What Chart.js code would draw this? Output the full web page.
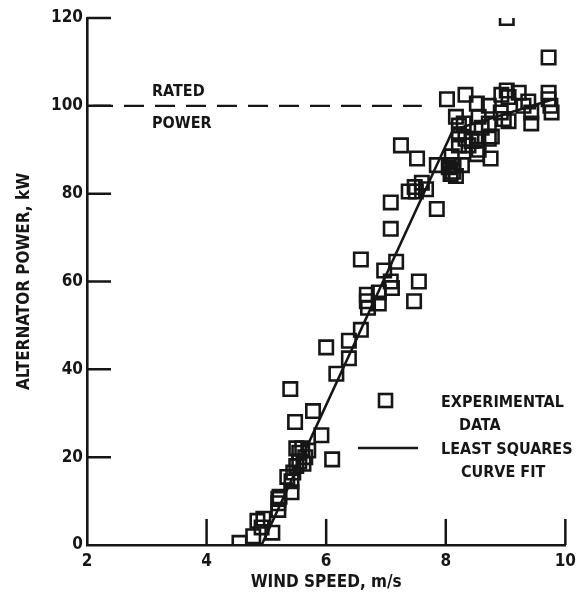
<!DOCTYPE html>
<html>
<head>
<meta charset="utf-8">
<script src="https://cdn.jsdelivr.net/npm/chart.js@4/dist/chart.umd.min.js"></script>
<style>
  html, body { margin: 0; padding: 0; background: #fff; }
  #wrap { width: 582px; height: 596px; }
</style>
</head>
<body>
<div id="wrap"><canvas id="powerChart" width="582" height="596"></canvas></div>
<script>
const windSpeed = [
  4.55, 4.78, 4.85, 4.92, 4.95, 5.1,
  5.2, 5.2, 5.22, 5.2, 5.35, 5.42, 5.45, 5.42,
  5.5, 5.55, 5.6, 5.65, 5.55, 5.7, 5.62, 5.5,
  5.48, 5.4, 5.78, 5.92, 6.1, 6.0, 6.17, 6.38, 6.38, 6.58, 6.58,
  6.68, 6.68, 6.7, 6.88, 6.88, 6.97, 7.08, 7.1, 7.17, 7.47, 7.55,
  7.08, 7.08, 7.25, 7.38, 7.48, 7.5, 7.6, 7.67, 7.52, 7.85, 7.85,
  8.05, 8.12, 8.08, 8.17, 8.1, 8.13, 8.27,
  8.52, 8.75, 8.55, 8.22, 8.33, 8.52, 8.72, 8.77,
  8.17, 8.22, 8.3, 8.55, 8.6, 8.72,
  8.02, 8.33, 8.52, 8.72, 8.22, 8.38, 8.43,
  8.93, 9.02, 9.05, 9.22, 8.92, 8.97, 9.05,
  9.43, 9.43, 9.38, 9.3,
  9.72, 9.72, 9.75, 9.77, 9.02, 9.72
];
const power = [
  0.5, 2, 5.5, 4, 6, 2.8,
  8, 9.5, 11, 10.5, 15.5, 14.5, 16.5, 12,
  18, 21, 22, 20, 19, 21.5, 18.5, 22,
  28, 35.5, 30.5, 25, 19.5, 45, 39, 42.5, 46.5, 49, 65,
  57, 55.5, 54, 57.5, 55, 62.5, 60, 58.5, 64.5, 55.5, 60,
  72, 78, 91, 80.5, 81.5, 80.5, 82.5, 81, 88, 76.5, 86.5,
  86, 85, 84.5, 84, 88.5, 86.5, 86.5,
  89, 88, 90, 93.5, 92.5, 92.5, 92.5, 93,
  97.5, 95.5, 96, 97.5, 95, 96,
  101.5, 102.5, 100.5, 100, 91, 91, 92,
  102.5, 103.5, 102, 103, 98.5, 97, 96.5,
  98.5, 96, 101, 100,
  103, 101.5, 100, 98.5, 120, 111
];

// least squares curve fit
const fitSpeed = [4.92, 8.12, 9.8];
const fitPower = [0, 94.5, 101.5];

// rated power reference line
const ratedSpeed = [2.1, 7.6];
const ratedPower = [100, 100];

const xTicks = [2, 4, 6, 8, 10];
const yTicks = [0, 20, 40, 60, 80, 100, 120];

const INK = '#161616';
const FONT = '"DejaVu Sans Condensed", "Liberation Sans Narrow", "Liberation Sans", sans-serif';

function toPoints(xs, ys) {
  return xs.map((x, i) => ({ x: x, y: ys[i] }));
}

// tick marks drawn on the inside of the axes, plus the notes on the plot
const annotations = {
  id: 'annotations',
  afterDatasetsDraw(chart) {
    const { ctx, chartArea, scales } = chart;
    const xs = scales.x, ys = scales.y;
    ctx.save();
    ctx.strokeStyle = INK;
    ctx.lineWidth = 2.5;
    ctx.beginPath();
    xTicks.slice(1).forEach(v => {
      const px = xs.getPixelForValue(v);
      ctx.moveTo(px, chartArea.bottom);
      ctx.lineTo(px, chartArea.bottom - 26);
    });
    yTicks.slice(1).forEach(v => {
      const py = ys.getPixelForValue(v);
      ctx.moveTo(chartArea.left, py);
      ctx.lineTo(chartArea.left + 24, py);
    });
    ctx.stroke();

    ctx.fillStyle = INK;
    ctx.textBaseline = 'middle';
    ctx.textAlign = 'left';
    ctx.font = 'bold 16px ' + FONT;
    const ry = ys.getPixelForValue(100);
    ctx.fillText('RATED', chartArea.left + 65, ry - 14);
    ctx.fillText('POWER', chartArea.left + 65, ry + 18);

    // legend
    ctx.lineWidth = 2.6;
    ctx.strokeRect(379, 394, 13, 13);
    ctx.beginPath();
    ctx.moveTo(358, 448);
    ctx.lineTo(418, 448);
    ctx.stroke();
    ctx.fillText('EXPERIMENTAL', 441, 403);
    ctx.fillText('DATA', 459, 426);
    ctx.fillText('LEAST SQUARES', 441, 450);
    ctx.fillText('CURVE FIT', 461, 473);
    ctx.restore();
  }
};

const config = {
  type: 'scatter',
  data: {
    datasets: [
      {
        label: 'Experimental data',
        data: toPoints(windSpeed, power),
        pointStyle: 'rect',
        pointRadius: 9.5,
        pointBorderWidth: 2.6,
        pointBorderColor: INK,
        pointBackgroundColor: 'rgba(0,0,0,0)',
        showLine: false
      },
      {
        label: 'Least squares curve fit',
        data: toPoints(fitSpeed, fitPower),
        showLine: true,
        borderColor: INK,
        borderWidth: 2.6,
        pointRadius: 0
      },
      {
        label: 'Rated power',
        data: toPoints(ratedSpeed, ratedPower),
        showLine: true,
        borderColor: INK,
        borderWidth: 2.2,
        borderDash: [20, 11],
        pointRadius: 0
      }
    ]
  },
  options: {
    responsive: false,
    animation: false,
    layout: { padding: { top: 18, right: 14, left: 0, bottom: 0 } },
    plugins: {
      legend: { display: false },
      tooltip: { enabled: false }
    },
    scales: {
      x: {
        type: 'linear',
        min: 2,
        max: 10,
        afterBuildTicks: s => { s.ticks = xTicks.map(v => ({ value: v })); },
        afterFit: s => { s.height = 51; },
        grid: { display: false, drawTicks: false },
        border: { display: true, color: INK, width: 2.6 },
        ticks: {
          color: INK,
          padding: 6,
          maxRotation: 0,
          font: { family: FONT, size: 17, weight: 'bold' }
        },
        title: {
          display: true,
          text: 'WIND SPEED, m/s',
          color: INK,
          padding: { top: 0, bottom: 3 },
          font: { family: FONT, size: 17, weight: 'bold' }
        }
      },
      y: {
        min: 0,
        max: 120,
        afterBuildTicks: s => { s.ticks = yTicks.map(v => ({ value: v })); },
        afterFit: s => { s.width = 87; },
        grid: { display: false, drawTicks: false },
        border: { display: true, color: INK, width: 2.6 },
        ticks: {
          color: INK,
          padding: 4,
          font: { family: FONT, size: 17, weight: 'bold' }
        },
        title: {
          display: true,
          text: 'ALTERNATOR POWER, kW',
          color: INK,
          padding: { top: 14, bottom: 0 },
          font: { family: FONT, size: 17, weight: 'bold' }
        }
      }
    }
  },
  plugins: [annotations]
};

new Chart(document.getElementById('powerChart').getContext('2d'), config);
</script>
</body>
</html>
